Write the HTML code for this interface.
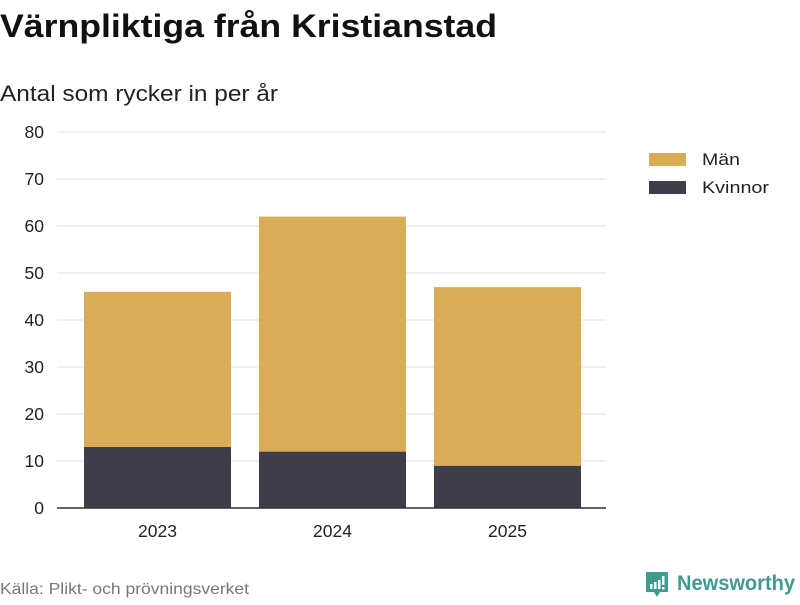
<!DOCTYPE html>
<html><head><meta charset="utf-8"><style>
body{margin:0;width:800px;height:600px;background:#fff;font-family:"Liberation Sans","DejaVu Sans",sans-serif;overflow:hidden}
</style></head><body>
<svg width="800" height="600" xmlns="http://www.w3.org/2000/svg" id="chart">
<text x="0" y="37" font-size="32" font-weight="bold" fill="#111" textLength="497" lengthAdjust="spacingAndGlyphs">Värnpliktiga från Kristianstad</text>
<text x="0" y="101" font-size="22" fill="#222" textLength="278" lengthAdjust="spacingAndGlyphs">Antal som rycker in per år</text>
<g id="grid"></g>
<g id="bars"></g>
<line x1="57" x2="606" y1="508" y2="508" stroke="#333" stroke-width="1.5"/>
<g id="xlabels"></g>
<g>
<g><rect x="649" y="153" width="37" height="13" fill="#d9ad58"/><text x="702" y="165" font-size="17" fill="#222" textLength="38" lengthAdjust="spacingAndGlyphs">Män</text></g>
<g><rect x="649" y="181" width="37" height="13" fill="#403d4b"/><text x="702" y="193" font-size="17" fill="#222" textLength="67" lengthAdjust="spacingAndGlyphs">Kvinnor</text></g>
</g>
<text x="0" y="594" font-size="16" fill="#777" textLength="249" lengthAdjust="spacingAndGlyphs">Källa: Plikt- och prövningsverket</text>
<g>
<path d="M646 572 h22 v20 h-8 l-3 5 l-3 -5 h-8 z" fill="#3f9a8f"/>
<rect x="650" y="584" width="2.5" height="5" fill="#fff"/><rect x="654" y="582" width="2.5" height="7" fill="#fff"/><rect x="658" y="580" width="2.5" height="9" fill="#fff"/><rect x="662" y="576" width="2.5" height="9" fill="#fff"/><rect x="662" y="587" width="2.5" height="2.5" fill="#fff"/>
<text x="677" y="590" font-size="21" font-weight="bold" fill="#3f9a8f" textLength="118" lengthAdjust="spacingAndGlyphs">Newsworthy</text>
</g>
</svg>
<script>
const categories=["2023","2024","2025"];
const kvinnor=[13,12,9];
const man=[33,50,38];
const yTicks=[0,10,20,30,40,50,60,70,80];
const ns="http://www.w3.org/2000/svg";
const y0=508,yTop=132,yMax=80,xL=57,xR=606;
const y=v=>y0-(v/yMax)*(y0-yTop);
const bandStart=70,band=175,bw=147;
const x=i=>bandStart+band*i+(band-bw)/2;
const grid=document.getElementById('grid'),bars=document.getElementById('bars'),xl=document.getElementById('xlabels');
function mk(t,a){const e=document.createElementNS(ns,t);for(const k in a)e.setAttribute(k,a[k]);return e;}
yTicks.forEach(v=>{
 if(v>0){const l=mk('line',{x1:xL,x2:xR,y1:y(v),y2:y(v),stroke:'#e0e0e0','stroke-width':1});
 
 grid.appendChild(l);}
 const t=mk('text',{x:44,y:y(v)+6,'font-size':17.5,fill:'#222','text-anchor':'end'});t.textContent=v;
 
 grid.appendChild(t);
});
categories.forEach((c,i)=>{
 const b1=mk('rect',{x:x(i),y:y(kvinnor[i]),width:bw,height:y0-y(kvinnor[i]),fill:'#403d4b'});
 
 bars.appendChild(b1);
 const b2=mk('rect',{x:x(i),y:y(kvinnor[i]+man[i]),width:bw,height:y(kvinnor[i])-y(kvinnor[i]+man[i]),fill:'#d9ad58'});
 
 bars.appendChild(b2);
 const t=mk('text',{x:x(i)+bw/2,y:537,'font-size':17.5,fill:'#222','text-anchor':'middle'});t.textContent=c;
 
 xl.appendChild(t);
});
</script>
</body></html>
